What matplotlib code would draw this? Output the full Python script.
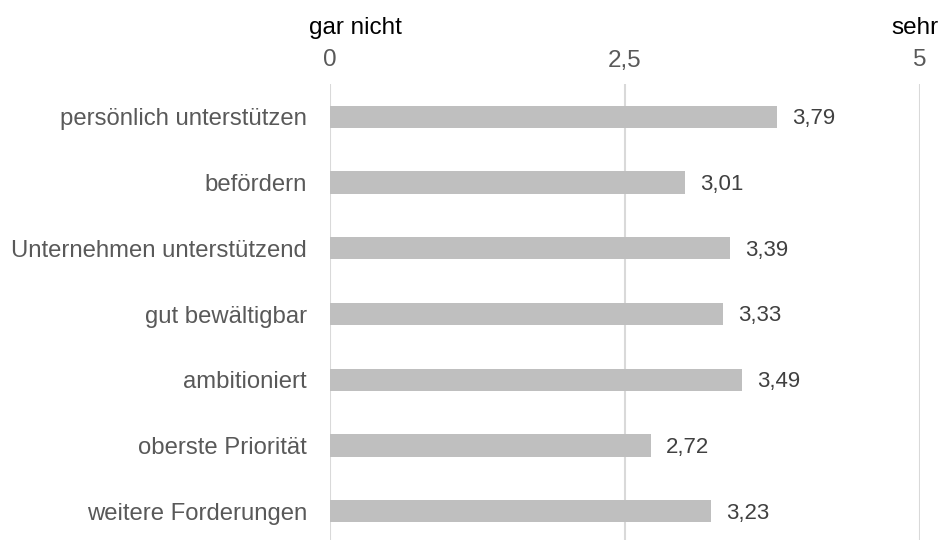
import matplotlib.pyplot as plt

categories = ["persönlich unterstützen", "befördern", "Unternehmen unterstützend",
              "gut bewältigbar", "ambitioniert", "oberste Priorität", "weitere Forderungen"]
values = [3.79, 3.01, 3.39, 3.33, 3.49, 2.72, 3.23]
ticks = [0, 2.5, 5]
tick_labels = ["0", "2,5", "5"]

plt.rcParams['font.family'] = ['Liberation Sans', 'DejaVu Sans']

fig = plt.figure(figsize=(9.41, 5.4), dpi=100)
ax = fig.add_axes([330 / 941, -4 / 540, 590 / 941, 460 / 540])

y = list(range(len(categories)))
ax.barh(y, values, height=0.34, color="#bfbfbf", zorder=3)
for yi, v in zip(y, values):
    ax.text(v + 0.13, yi + 0.03, f"{v:.2f}".replace(".", ","), va="center", ha="left",
            fontsize=16, color="#404040")

ax.set_xlim(0, 5)
ax.set_ylim(len(categories) - 0.5, -0.5)
ax.set_xticks(ticks)
ax.set_xticklabels(tick_labels)
ax.xaxis.tick_top()
ax.tick_params(axis="x", length=0, labelsize=17.5, labelcolor="#595959", pad=9)
ax.set_yticks(y)
ax.set_yticklabels(categories)
ax.tick_params(axis="y", length=0, labelsize=17.2, labelcolor="#595959", pad=16.5)
ax.grid(axis="x", color="#d9d9d9", linewidth=1.5, zorder=0)
for s in ax.spines.values():
    s.set_visible(False)

fig.text(355 / 941, 1 - 28 / 540, "gar nicht", ha="center", va="center", fontsize=17.5, color="black")
fig.text(915 / 941, 1 - 28 / 540, "sehr", ha="center", va="center", fontsize=17.5, color="black")

fig.savefig("out.png", dpi=100)
